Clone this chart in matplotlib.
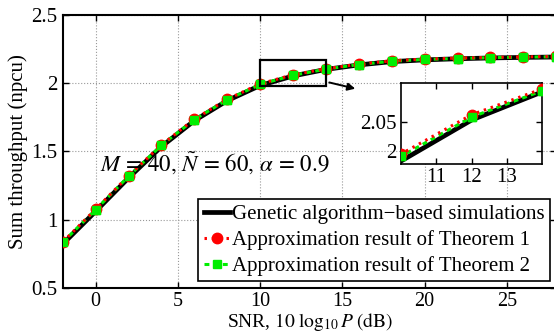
import numpy as np
import matplotlib
matplotlib.use('Agg')
import matplotlib.pyplot as plt
from matplotlib.patches import Rectangle

plt.rcParams['font.family'] = ['Liberation Serif', 'DejaVu Serif']
plt.rcParams['mathtext.fontset'] = 'stix'
plt.rcParams['font.size'] = 15

#==============================================================================
# Data
#==============================================================================
snr_db = [-2, 0, 2, 4, 6, 8, 10, 12, 14, 16, 18, 20, 22, 24, 26, 28]

ga_sim = [0.820, 1.060, 1.305, 1.535, 1.725, 1.872, 1.983, 2.053,
          2.101, 2.134, 2.158, 2.171, 2.179, 2.185, 2.189, 2.192]
theorem1 = [0.835, 1.075, 1.320, 1.547, 1.736, 1.882, 1.995, 2.062,
            2.106, 2.140, 2.164, 2.177, 2.184, 2.189, 2.193, 2.196]
theorem2 = [0.833, 1.072, 1.317, 1.544, 1.733, 1.879, 1.991, 2.058,
            2.103, 2.137, 2.161, 2.174, 2.181, 2.187, 2.191, 2.194]

labels = ['Genetic algorithm\u2212based simulations',
          'Approximation result of Theorem 1',
          'Approximation result of Theorem 2']

x_ticks = [0, 5, 10, 15, 20, 25]
y_ticks = [0.5, 1, 1.5, 2, 2.5]
zoom_x_ticks = [11, 12, 13]
zoom_y_ticks = [2, 2.05]


def draw_curves(ax):
    ax.plot(snr_db, ga_sim, '-', color='black', lw=3.4, zorder=3, label=labels[0])
    ax.plot(snr_db, theorem2, color='#00ee00', lw=2.2, marker='s', ms=5.8,
            dashes=(1.6, 1.4), mec='#00ee00', mfc='#00ee00', zorder=4, label=labels[2])
    ax.plot(snr_db, theorem1, color='red', lw=2.2, marker='o', ms=7.5,
            dashes=(0.8, 1.6), mec='red', mfc='red', zorder=5, label=labels[1])
    # green markers on top of the red circles
    ax.plot(snr_db, theorem2, 's', ms=5.8, color='#00ee00', zorder=6)


def style_axes(ax, lw=1.2):
    for s in ax.spines.values():
        s.set_linewidth(lw)
    ax.tick_params(direction='in', top=True, right=True, length=4, width=1)


#==============================================================================
# Figure
#==============================================================================
fig = plt.figure(figsize=(5.54, 3.35), dpi=100)
ax = fig.add_axes([0.1132, 0.1412, 0.8908, 0.814])

draw_curves(ax)
ax.set_xlim(-2, 28)
ax.set_ylim(0.5, 2.5)
ax.set_xticks(x_ticks)
ax.set_yticks(y_ticks)
ax.set_yticklabels(['0.5', '1', '1.5', '2', '2.5'])
ax.grid(True, linestyle=':', color='#999999', lw=0.8)
style_axes(ax, lw=1.5)
ax.tick_params(pad=4)
ax.tick_params(axis='x', pad=3, labelsize=14.5)

ax.set_xlabel(r'SNR, $10\;\log_{10}P\;\mathrm{(dB)}$', fontsize=14, labelpad=0)
ax.set_ylabel('Sum throughput (npcu)', labelpad=2)

ax.text(0.26, 1.348, r'$M\,=\,40,\,\tilde{N}\,=\,60,\,\alpha\,=\,0.9$', fontsize=16.5,
        va='baseline', ha='left', zorder=7)

# zoom box and arrow
ax.add_patch(Rectangle((10, 1.982), 4, 0.189, fill=False, ec='black', lw=1.6, zorder=8))
ax.annotate('', xy=(15.95, 1.955), xytext=(14.04, 2.010),
            arrowprops=dict(arrowstyle='-|>', color='black', lw=1.4,
                            mutation_scale=11), zorder=8)

handles, labs = ax.get_legend_handles_labels()
order = [0, 2, 1]
leg = fig.legend([handles[i] for i in order], [labs[i] for i in order],
                 loc='upper right', bbox_to_anchor=(550 / 554, 1 - 199 / 335),
                 bbox_transform=fig.transFigure, borderaxespad=0,
                 handlelength=1.25, handletextpad=0.12, labelspacing=0.3,
                 borderpad=0.25, numpoints=1, fancybox=False, framealpha=1,
                 edgecolor='black', fontsize=15)
leg.get_frame().set_linewidth(1.2)

# inset
axin = fig.add_axes([0.7238, 0.5104, 0.2551, 0.2409])
draw_curves(axin)
axin.set_xlim(10, 14)
axin.set_ylim(1.978, 2.1155)
axin.set_xticks(zoom_x_ticks)
axin.set_yticks(zoom_y_ticks)
axin.set_yticklabels(['2', '2.05'])
style_axes(axin, lw=1.2)
axin.tick_params(pad=3)

plt.savefig('out.png', dpi=100)
plt.close()
